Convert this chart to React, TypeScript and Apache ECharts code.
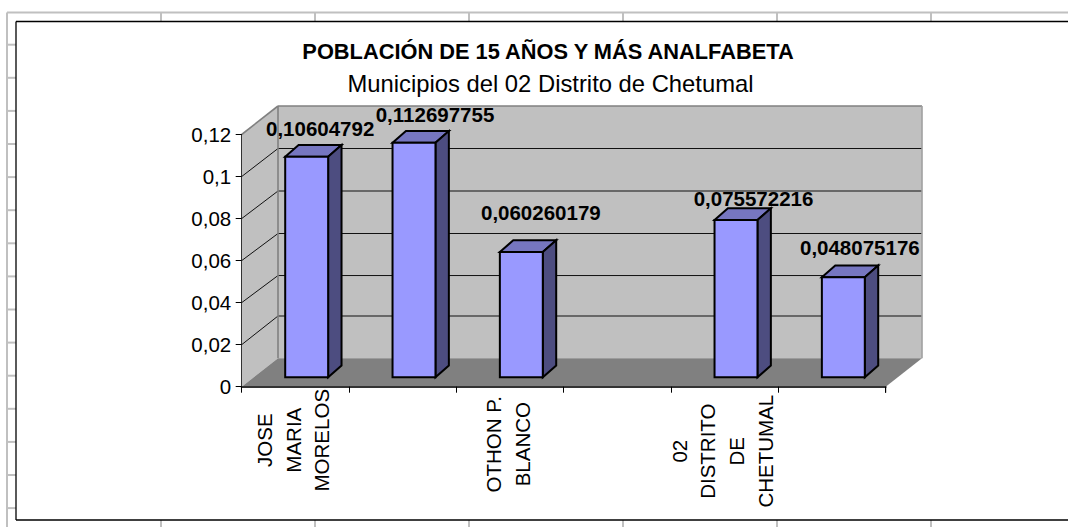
import React, { useEffect, useRef } from "react";
import * as echarts from "echarts";

const TITLE = "POBLACIÓN DE 15 AÑOS Y MÁS ANALFABETA";
const SUBTITLE = "Municipios del 02 Distrito de Chetumal";
const CATEGORIES = ["JOSE\nMARIA\nMORELOS", "", "OTHON P.\nBLANCO", "", "02\nDISTRITO\nDE\nCHETUMAL", ""];
const VALUES: (number | null)[] = [0.10604792, 0.112697755, 0.060260179, null, 0.075572216, 0.048075176];
const Y_TICKS = [0, 0.02, 0.04, 0.06, 0.08, 0.1, 0.12];

// layout constants (not data)
const FONT = "'Liberation Sans', Arial, sans-serif";
const FS = 20.5;
const GRID = { left: 241.7, top: 134.5, width: 644, height: 252.2 };
const WALL_DX = 36.3;
const WALL_DY = -28.5;
const GRIDLINE_NUDGE = [0, -0.16, 1.4, 1.4, 0.94, 0.47, 0];
const BAR_DX = 11.3;
const BAR_DY = -9.4;
const BAR_W = 0.4;
const BAR_SCALE = 0.99;
const SIDE_DX = 13.4;
const SIDE_DY = -11.7;
const LABEL_NUDGE: [number, number][] = [[13.5, -28], [21, -28], [19.5, -39], [0, 0], [17.5, -21.6], [16.5, -29.6]];
const CAT_LABEL_Y = [53.5, 0, 57.5, 0, 64.5, 0];
const CAT_LABEL_DX = [-2, 0, -2, 0, -2.5, 0];
const CAT_LINE_H = 28.6;
const SHEET_V = [161, 315, 469, 623, 777, 931];
const SHEET_H = [44.7, 77.8, 110.9, 144, 177.1, 210.2, 243.3, 276.4, 309.5, 342.6, 375.7, 408.8, 441.9, 475, 508.1];

const sheetLine = (x1: number, y1: number, x2: number, y2: number, stroke = "#c0c0c0", lineWidth = 2) => ({
  type: "line", z: 0, silent: true, shape: { x1, y1, x2, y2 }, style: { stroke, lineWidth },
});

const fmt = (v: number) => String(v).replace(".", ",");

export default function App() {
  const ref = useRef<HTMLDivElement>(null);
  useEffect(() => {
    document.body.style.margin = "0";
    const chart = echarts.init(ref.current!, undefined, { renderer: "svg" });

    const graphic = [
      { type: "rect", z: 0, silent: true, shape: { x: 0, y: 0, width: 1068, height: 527 }, style: { fill: "#ffffff" } },
      sheetLine(7, 12.5, 1068, 12.5),
      sheetLine(7, 12.5, 7, 527),
      ...SHEET_V.map((x) => sheetLine(x, 12.5, x, 21.5)),
      ...SHEET_V.map((x) => sheetLine(x, 520, x, 527)),
      ...SHEET_H.map((y) => sheetLine(7, y, 16, y)),
      sheetLine(16, 21.5, 1068, 21.5, "#000000", 1.3),
      sheetLine(16, 21.5, 16, 520, "#000000", 1.3),
      sheetLine(16, 520, 1068, 520, "#000000", 1.3),
    ];

    const option: any = {
      animation: false,
      backgroundColor: "#ffffff",
      graphic,
      title: [
        { text: TITLE, left: 543, top: 35, textAlign: "center", textStyle: { fontFamily: FONT, fontSize: 21.8, fontWeight: "bold", color: "#000" } },
        { text: SUBTITLE, left: 545.5, top: 66.5, textAlign: "center", textStyle: { fontFamily: FONT, fontSize: 23.8, fontWeight: "normal", color: "#000" } },
      ],
      grid: { ...GRID, containLabel: false, show: false },
      xAxis: {
        type: "category",
        data: CATEGORIES,
        boundaryGap: true,
        z: 6,
        axisLine: { show: true, lineStyle: { color: "#333333", width: 2 } },
        axisTick: { show: true, alignWithLabel: false, length: 6, lineStyle: { color: "#000000", width: 1 } },
        axisLabel: { show: false },
        splitLine: { show: false },
      },
      yAxis: {
        type: "value",
        min: 0,
        max: 0.12,
        interval: 0.02,
        z: 6,
        axisLine: { show: true, lineStyle: { color: "#333333", width: 1 } },
        axisTick: { show: true, length: 6, lineStyle: { color: "#000000", width: 1 } },
        axisLabel: { margin: 10.5, fontFamily: FONT, fontSize: FS, color: "#000", formatter: (v: number) => fmt(v) },
        splitLine: { show: false },
      },
      series: [
        {
          type: "custom",
          name: "walls",
          z: 2,
          silent: true,
          clip: false,
          data: [[0, 0]],
          renderItem: (_p: any, api: any) => {
            const band = api.size([1, 0])[0];
            const o = api.coord([0, 0]);
            const l = o[0] - band / 2;
            const r = l + band * CATEGORIES.length;
            const yb = o[1];
            const yt = api.coord([0, Y_TICKS[Y_TICKS.length - 1]])[1];
            const poly = (points: number[][], style: any) => ({ type: "polygon", shape: { points }, style });
            const line = (x1: number, y1: number, x2: number, y2: number, stroke: string, lineWidth: number) => ({
              type: "line", shape: { x1, y1, x2, y2 }, style: { stroke, lineWidth },
            });
            const children: any[] = [
              poly([[l + WALL_DX, yt + WALL_DY], [r + WALL_DX, yt + WALL_DY], [r + WALL_DX, yb + WALL_DY], [l + WALL_DX, yb + WALL_DY]], { fill: "#c0c0c0" }),
              poly([[l, yb], [l, yt], [l + WALL_DX, yt + WALL_DY], [l + WALL_DX, yb + WALL_DY]], { fill: "#c0c0c0" }),
            ];
            Y_TICKS.forEach((t, k) => {
              if (k === 0 || k === Y_TICKS.length - 1) return;
              const y = api.coord([0, t])[1];
              const by = y + WALL_DY + GRIDLINE_NUDGE[k];
              children.push(line(l, y, l + WALL_DX, by, "#111111", 1));
              children.push(line(l + WALL_DX, by, r + WALL_DX, by, "#111111", 1));
            });
            children.push(
              line(l, yt, l + WALL_DX, yt + WALL_DY, "#808080", 1.6),
              line(l + WALL_DX, yt + WALL_DY, r + WALL_DX, yt + WALL_DY, "#808080", 1.6),
              line(r + WALL_DX, yt + WALL_DY, r + WALL_DX, yb + WALL_DY, "#a0a0a0", 1.6),
              line(l + WALL_DX, yt + WALL_DY, l + WALL_DX, yb + WALL_DY, "#808080", 1.6),
              poly([[l, yb], [r, yb], [r + WALL_DX, yb + WALL_DY], [l + WALL_DX, yb + WALL_DY]], { fill: "#808080" }),
              line(r, yb, r, yb + 6, "#000000", 1),
            );
            return { type: "group", children };
          },
        },
        {
          type: "custom",
          name: "bars",
          z: 3,
          silent: true,
          clip: false,
          encode: { x: 0, y: 1 },
          data: VALUES.map((v, i) => [i, v]).filter((d) => d[1] !== null),
          renderItem: (_p: any, api: any) => {
            const i = api.value(0);
            const v = api.value(1);
            const band = api.size([1, 0])[0];
            const c0 = api.coord([i, 0]);
            const c1 = api.coord([i, v]);
            const w = band * BAR_W;
            const l = c0[0] + BAR_DX - w / 2;
            const r = l + w;
            const b = c0[1] + BAR_DY;
            const t = b - (c0[1] - c1[1]) * BAR_SCALE;
            const stroke = { stroke: "#000000", lineWidth: 2, lineJoin: "miter" };
            return {
              type: "group",
              children: [
                { type: "polygon", shape: { points: [[l, t], [l + SIDE_DX, t + SIDE_DY], [r + SIDE_DX, t + SIDE_DY], [r, t]] }, style: { fill: "#7676c0", ...stroke } },
                { type: "polygon", shape: { points: [[r, t], [r + SIDE_DX, t + SIDE_DY], [r + SIDE_DX, b + SIDE_DY], [r, b]] }, style: { fill: "#4d4d80", ...stroke } },
                { type: "polygon", shape: { points: [[l, t], [r, t], [r, b], [l, b]] }, style: { fill: "#9999ff", ...stroke } },
              ],
            };
          },
        },
        {
          type: "custom",
          name: "labels",
          z: 7,
          silent: true,
          clip: false,
          encode: { x: 0, y: 1 },
          data: VALUES.map((v, i) => [i, v]).filter((d) => d[1] !== null),
          renderItem: (_p: any, api: any) => {
            const i = api.value(0);
            const v = api.value(1);
            const c0 = api.coord([i, 0]);
            const c1 = api.coord([i, v]);
            const [nx, ny] = LABEL_NUDGE[i];
            const t = c0[1] + BAR_DY - (c0[1] - c1[1]) * BAR_SCALE;
            return {
              type: "text",
              x: c0[0] + BAR_DX + nx,
              y: t + ny,
              style: { text: fmt(v), fontFamily: FONT, fontSize: FS, fontWeight: "bold", fill: "#000", textAlign: "center", textVerticalAlign: "middle" },
            };
          },
        },
        {
          type: "custom",
          name: "categoryLabels",
          z: 7,
          silent: true,
          clip: false,
          data: CATEGORIES.map((_c, i) => [i, 0]).filter((d) => CATEGORIES[d[0]] !== ""),
          renderItem: (_p: any, api: any) => {
            const i = api.value(0);
            const c = api.coord([i, 0]);
            return {
              type: "text",
              x: c[0] + CAT_LABEL_DX[i],
              y: c[1] + CAT_LABEL_Y[i],
              rotation: Math.PI / 2,
              style: { text: CATEGORIES[i], fontFamily: FONT, fontSize: FS, lineHeight: CAT_LINE_H, fill: "#000", textAlign: "center", textVerticalAlign: "middle" },
            };
          },
        },
      ],
    };
    chart.setOption(option);
    return () => chart.dispose();
  }, []);
  return <div ref={ref} style={{ position: "absolute", left: 0, top: 0, width: 1068, height: 527 }} />;
}
